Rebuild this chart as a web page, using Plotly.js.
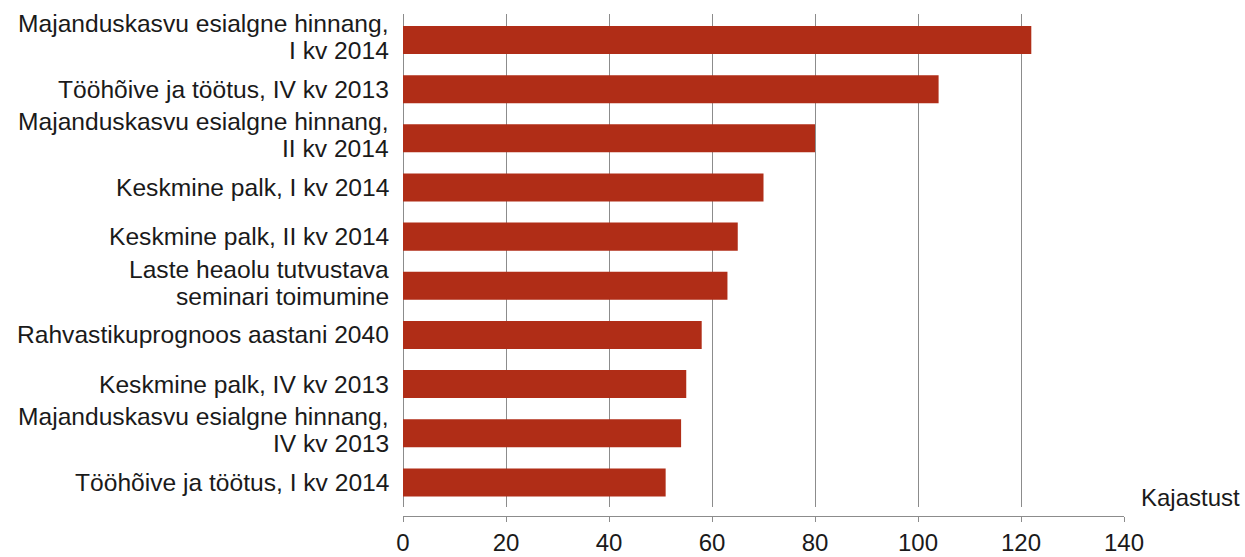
<!DOCTYPE html>
<html>
<head>
<meta charset="utf-8">
<script src="https://cdn.plot.ly/plotly-3.0.1.min.js"></script>
<style>html,body{margin:0;padding:0;background:#fff;}#chart{width:1245px;height:557px;}</style>
</head>
<body>
<div id="chart"></div>
<script>
const categories = [
  "Majanduskasvu esialgne hinnang,<br>I kv 2014",
  "Tööhõive ja töötus, IV kv 2013",
  "Majanduskasvu esialgne hinnang,<br>II kv 2014",
  "Keskmine palk, I kv 2014",
  "Keskmine palk, II kv 2014",
  "Laste heaolu tutvustava<br>seminari toimumine",
  "Rahvastikuprognoos aastani 2040",
  "Keskmine palk, IV kv 2013",
  "Majanduskasvu esialgne hinnang,<br>IV kv 2013",
  "Tööhõive ja töötus, I kv 2014"
];
const values = [122, 104, 80, 70, 65, 63, 58, 55, 54, 51];
const xTicks = [0, 20, 40, 60, 80, 100, 120, 140];
const unitLabel = "Kajastust";

const font = {family: "Liberation Sans, Arial, sans-serif", size: 24, color: "#1a1a1a"};
const labelFont = {family: "Liberation Sans, Arial, sans-serif", size: 24.6, color: "#1a1a1a"};
const lineStep = 27;

// category labels drawn line by line so the line spacing matches the reference
const labelAnnotations = [];
categories.forEach(function (cat) {
  const lines = cat.split("<br>");
  lines.forEach(function (line, i) {
    labelAnnotations.push({
      text: line,
      xref: "x", yref: "y",
      x: 0, y: cat,
      xanchor: "right", yanchor: "middle", align: "right",
      xshift: -12,
      yshift: ((lines.length - 1) / 2 - i) * lineStep + (lines.length > 1 ? 3 : 0),
      showarrow: false,
      font: labelFont
    });
  });
});

Plotly.newPlot("chart", [{
  type: "bar",
  orientation: "h",
  x: values,
  y: categories,
  width: 0.57,
  marker: {color: "#B02D17"},
  hoverinfo: "x+y"
}], {
  width: 1245,
  height: 557,
  margin: {l: 403, r: 121, t: 14, b: 41, pad: 0},
  paper_bgcolor: "#ffffff",
  plot_bgcolor: "#ffffff",
  font: font,
  showlegend: false,
  xaxis: {
    range: [0, 140],
    tickvals: xTicks,
    ticktext: xTicks.map(String),
    showgrid: true,
    gridcolor: "#8c8c8c",
    gridwidth: 1,
    zeroline: true,
    zerolinecolor: "#8c8c8c",
    zerolinewidth: 1,
    showline: true,
    linecolor: "#8c8c8c",
    linewidth: 1,
    ticks: "outside",
    ticklen: 5,
    tickcolor: "#8c8c8c",
    ticklabelstandoff: 0,
    anchor: "free",
    position: 0,
    tickfont: font,
    fixedrange: true
  },
  yaxis: {
    type: "category",
    autorange: "reversed",
    domain: [0.018, 1],
    showgrid: false,
    zeroline: false,
    showline: false,
    ticks: "",
    showticklabels: false,
    fixedrange: true
  },
  annotations: labelAnnotations.concat([{
    text: unitLabel,
    xref: "paper", yref: "paper",
    x: 1, y: 0,
    xanchor: "left", yanchor: "middle",
    xshift: 15, yshift: 19,
    showarrow: false,
    font: font
  }])
}, {staticPlot: true});
</script>
</body>
</html>
